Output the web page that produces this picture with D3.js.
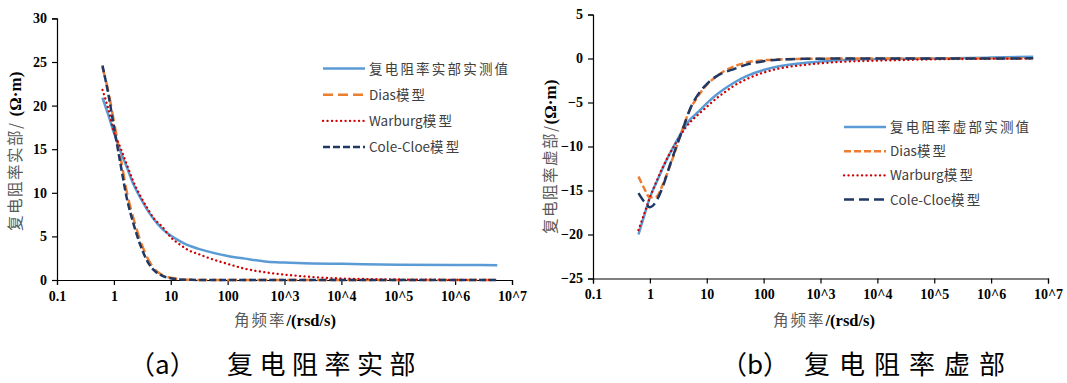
<!DOCTYPE html>
<html>
<head>
<meta charset="utf-8">
<script src="https://cdn.jsdelivr.net/npm/d3@7"></script>
<style>
    body { margin: 0; background: #fff; }
    svg { display: block; }
</style>
</head>
<body>
<div id="chart"></div>
<script>
// angular frequency grid (rad/s)
const omega = [0.63, 0.8, 1, 1.3, 1.7, 2.2, 3, 4, 5, 7, 10, 15, 20, 30, 50, 100, 200, 500, 1e3, 3e3, 1e4, 1e5, 1e6, 5.5e6];

// (a) real part
const realMeasured = [20.9, 18.9, 16.9, 14.8, 12.9, 11.0, 9.3, 7.9, 7.0, 5.9, 5.1, 4.4, 4.0, 3.6, 3.2, 2.75, 2.45, 2.1, 2.0, 1.9, 1.85, 1.75, 1.72, 1.70];
const realDias = [24.4, 21.6, 18.2, 14.2, 10.0, 7.1, 4.3, 2.4, 1.35, 0.6, 0.25, 0.08, 0.03, 0.01, 0, 0, 0, 0, 0, 0, 0, 0, 0, 0];
const realWarburg = [21.8, 19.6, 17.0, 15.2, 13.2, 11.3, 9.5, 8.1, 7.1, 6.15, 4.9, 4.0, 3.45, 3.0, 2.45, 1.85, 1.3, 0.85, 0.62, 0.35, 0.18, 0.06, 0.02, 0.01];
const realColeCole = [24.6, 21.3, 17.6, 13.4, 9.3, 6.5, 3.8, 2.0, 1.15, 0.5, 0.2, 0.06, 0.02, 0.01, 0, 0, 0, 0, 0, 0, 0, 0, 0, 0];

// (b) imaginary part
const imagMeasured = [-20.0, -17.8, -15.8, -14.1, -12.4, -10.9, -9.3, -7.9, -7.0, -6.1, -5.1, -4.1, -3.5, -2.75, -2.0, -1.3, -0.85, -0.5, -0.35, -0.15, -0.05, 0.0, 0.1, 0.2];
const imagDias = [-13.4, -14.8, -15.8, -15.7, -14.25, -12.4, -9.9, -7.5, -5.9, -4.3, -3.0, -2.0, -1.45, -0.9, -0.45, -0.2, -0.1, -0.04, -0.02, 0, 0, 0, 0, 0.02];
const imagWarburg = [-19.5, -17.6, -15.8, -14.0, -12.3, -10.9, -9.4, -8.1, -7.3, -6.4, -5.5, -4.5, -3.9, -3.1, -2.35, -1.6, -1.1, -0.75, -0.55, -0.35, -0.25, -0.1, -0.03, 0];
const imagColeCole = [-15.3, -16.3, -16.9, -16.2, -14.5, -12.3, -9.8, -7.6, -5.85, -4.1, -2.9, -2.0, -1.6, -1.2, -0.7, -0.3, -0.12, -0.04, -0.02, 0, 0, 0, 0, 0.02];

const xTickValues = [0.1, 1, 10, 100, 1e3, 1e4, 1e5, 1e6, 1e7];
const xTickLabels = ['0.1', '1', '10', '100', '10^3', '10^4', '10^5', '10^6', '10^7'];
const realTicks = [0, 5, 10, 15, 20, 25, 30];
const imagTicks = [-25, -20, -15, -10, -5, 0, 5];

const legendReal = ['复电阻率实部实测值', 'Dias模型', 'Warburg模型', 'Cole-Cloe模型'];
const legendImag = ['复电阻率虚部实测值', 'Dias模型', 'Warburg模型', 'Cole-Cloe模型'];

const CJK = '"Noto Sans CJK SC", "Noto Sans", sans-serif';
const SERIF = '"Liberation Serif", "Times New Roman", "DejaVu Serif", serif';

const width = 1067, height = 383;
const svg = d3.select('#chart').append('svg')
    .attr('width', width)
    .attr('height', height)
    .style('background', '#fff');

function drawPanel(cfg) {
    const x = d3.scaleLog().domain([0.1, 1e7]).range([cfg.left, cfg.left + 455]);
    const y = d3.scaleLinear().domain(cfg.yDomain).range([cfg.bottom, cfg.top]);
    const g = svg.append('g');

    // axes
    const xAxis = g.append('g')
        .attr('transform', `translate(0,${cfg.bottom})`)
        .call(d3.axisBottom(x).tickValues(xTickValues).tickSize(5).tickPadding(6)
            .tickFormat((d, i) => xTickLabels[i]));
    const yAxis = g.append('g')
        .attr('transform', `translate(${cfg.left},0)`)
        .call(d3.axisLeft(y).tickValues(cfg.yTicks).tickSize(5).tickPadding(5));

    [xAxis, yAxis].forEach(a => {
        a.attr('font-family', SERIF);
        a.select('.domain').attr('stroke', '#000').attr('stroke-width', 1.2);
        a.selectAll('.tick line').attr('stroke', '#000').attr('stroke-width', 1.2);
        a.selectAll('.tick text')
            .attr('font-family', SERIF)
            .attr('font-weight', 'bold')
            .attr('font-size', 14)
            .attr('fill', '#000');
    });

    // series
    const line = d3.line()
        .x(d => x(d[0]))
        .y(d => y(d[1]))
        .curve(d3.curveMonotoneX);

    cfg.series.forEach(s => {
        g.append('path')
            .datum(omega.map((w, i) => [w, s.values[i]]))
            .attr('d', line)
            .attr('fill', 'none')
            .attr('stroke', s.color)
            .attr('stroke-width', s.width)
            .attr('stroke-dasharray', s.dash)
            .attr('stroke-linecap', s.cap || 'butt');
    });

    // legend
    cfg.series.forEach((s, i) => {
        const ly = cfg.legendY + i * cfg.legendStep;
        g.append('line')
            .attr('x1', cfg.legendX).attr('x2', cfg.legendX + 42)
            .attr('y1', ly).attr('y2', ly)
            .attr('stroke', s.color)
            .attr('stroke-width', s.width)
            .attr('stroke-dasharray', s.dash)
            .attr('stroke-linecap', s.cap || 'butt');
        const label = cfg.legend[i];
        const m = label.match(/^([A-Za-z\-]*)(.*)$/);
        const t = g.append('text')
            .attr('x', cfg.legendX + 46)
            .attr('y', ly + 5)
            .style('font-family', CJK)
            .style('font-size', '13.5px')
            .attr('fill', '#404040');
        if (m[1]) t.append('tspan').text(m[1]);
        t.append('tspan').style('letter-spacing', '2.2px').text(m[2]);
    });

    // x title
    const xt = g.append('text')
        .attr('x', cfg.xTitleX)
        .attr('y', 326);
    xt.append('tspan').attr('font-family', CJK).attr('font-size', 15.5).attr('fill', '#595959')
        .style('letter-spacing', '2px').text('角频率');
    xt.append('tspan').attr('font-family', SERIF).attr('font-weight', 'bold').attr('font-size', 16.5)
        .attr('fill', '#000').text('/(rsd/s)');

    // y title
    const yt = g.append('text')
        .attr('transform', `translate(${cfg.yTitleX},${cfg.yTitleY}) rotate(-90)`);
    yt.append('tspan').attr('font-family', CJK).attr('font-size', 15.5).attr('fill', '#595959')
        .style('letter-spacing', '1.5px').text(cfg.yTitle);
    yt.append('tspan').attr('font-family', SERIF).attr('font-weight', 'bold').attr('font-size', 17)
        .attr('fill', '#000').text('(Ω·m)');

    // caption
    const cap = svg.append('text')
        .attr('x', cfg.capX)
        .attr('y', 374)
        .attr('font-family', CJK)
        .attr('font-weight', 400)
        .attr('font-size', 26)
        .attr('fill', '#000');
    cap.append('tspan').text(cfg.capTag);
    cap.append('tspan').attr('x', cfg.capTextX)
        .style('letter-spacing', cfg.capSpacing + 'px').text(cfg.capText);
}

drawPanel({
    left: 57, top: 18.4, bottom: 280,
    yDomain: [0, 30], yTicks: realTicks,
    series: [
        { values: realMeasured, color: '#5B9BD5', width: 2.5, dash: null },
        { values: realDias, color: '#ED7D31', width: 2.5, dash: '10,5' },
        { values: realWarburg, color: '#D00000', width: 2.3, dash: '0.1,4.4', cap: 'round' },
        { values: realColeCole, color: '#1F3864', width: 2.5, dash: '7,3' }
    ],
    legend: legendReal, legendX: 323, legendY: 68.5, legendStep: 26.2,
    xTitleX: 234, yTitleX: 21, yTitleY: 231, yTitle: '复电阻率实部/ ',
    capX: 129, capTag: '（a）', capTextX: 227, capText: '复电阻率实部', capSpacing: 6.5
});

drawPanel({
    left: 593, top: 14.5, bottom: 278.5,
    yDomain: [-25, 5], yTicks: imagTicks,
    series: [
        { values: imagMeasured, color: '#5B9BD5', width: 2.5, dash: null },
        { values: imagDias, color: '#ED7D31', width: 2.5, dash: '7,3' },
        { values: imagWarburg, color: '#D00000', width: 2.3, dash: '0.1,4.4', cap: 'round' },
        { values: imagColeCole, color: '#1F3864', width: 2.5, dash: '10,5' }
    ],
    legend: legendImag, legendX: 844, legendY: 127, legendStep: 24.2,
    xTitleX: 773, yTitleX: 556, yTitleY: 234, yTitle: '复电阻率虚部/',
    capX: 721, capTag: '（b）', capTextX: 804, capText: '复电阻率虚部', capSpacing: 9
});
</script>
</body>
</html>
